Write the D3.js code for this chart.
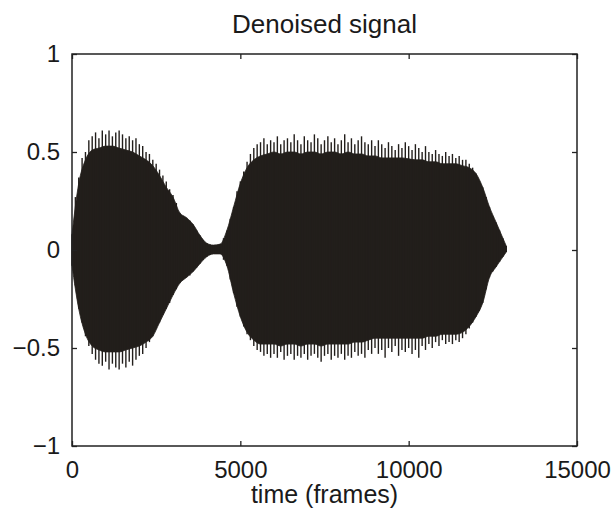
<!DOCTYPE html>
<html>
<head>
<meta charset="utf-8">
<script src="https://cdn.jsdelivr.net/npm/d3@7"></script>
<style>
  body { margin: 0; background: #fff; }
  svg text { font-family: "Liberation Sans", Arial, sans-serif; fill: #1a1a1a; }
</style>
</head>
<body>
<svg id="chart" width="616" height="515"></svg>
<script>
// peak values of the signal, one pair every 100 frames
var step = 100;

var upper = [
  0.08, 0.27, 0.37, 0.47, 0.50, 0.56, 0.58, 0.60, 0.57, 0.61,
  0.59, 0.61, 0.58, 0.60, 0.61, 0.59, 0.57, 0.58, 0.56, 0.57,
  0.54, 0.53, 0.50, 0.49, 0.46, 0.44, 0.41, 0.38, 0.35, 0.31,
  0.28, 0.24, 0.19, 0.175, 0.165, 0.15, 0.13, 0.10, 0.075, 0.05,
  0.035, 0.028, 0.025, 0.025, 0.03, 0.06, 0.10, 0.16, 0.22, 0.30,
  0.35, 0.40, 0.45, 0.49, 0.52, 0.54, 0.55, 0.57, 0.54, 0.56,
  0.55, 0.58, 0.54, 0.56, 0.57, 0.55, 0.59, 0.56, 0.54, 0.58,
  0.56, 0.55, 0.59, 0.57, 0.54, 0.56, 0.58, 0.55, 0.57, 0.54,
  0.56, 0.59, 0.55, 0.57, 0.54, 0.56, 0.58, 0.55, 0.54, 0.56,
  0.53, 0.56, 0.54, 0.52, 0.55, 0.53, 0.51, 0.54, 0.52, 0.55,
  0.53, 0.51, 0.54, 0.52, 0.50, 0.53, 0.50, 0.49, 0.51, 0.49,
  0.48, 0.50, 0.48, 0.49, 0.47, 0.48, 0.46, 0.46, 0.44, 0.42,
  0.39, 0.35, 0.32, 0.27, 0.22, 0.17, 0.14, 0.10, 0.06, 0.02
];

var lower = [
  -0.08, -0.18, -0.30, -0.37, -0.44, -0.49, -0.53, -0.56, -0.58, -0.59,
  -0.57, -0.61, -0.58, -0.60, -0.61, -0.58, -0.60, -0.57, -0.59, -0.56,
  -0.54, -0.53, -0.50, -0.47, -0.44, -0.40, -0.37, -0.33, -0.30, -0.27,
  -0.23, -0.20, -0.17, -0.15, -0.14, -0.13, -0.11, -0.09, -0.07, -0.05,
  -0.035, -0.025, -0.02, -0.015, -0.02, -0.05, -0.08, -0.15, -0.22, -0.29,
  -0.34, -0.39, -0.43, -0.46, -0.49, -0.51, -0.52, -0.54, -0.53, -0.55,
  -0.53, -0.55, -0.52, -0.56, -0.54, -0.53, -0.56, -0.54, -0.55, -0.53,
  -0.56, -0.54, -0.53, -0.55, -0.57, -0.54, -0.53, -0.56, -0.54, -0.55,
  -0.53, -0.56, -0.54, -0.55, -0.52, -0.54, -0.53, -0.55, -0.51, -0.53,
  -0.50, -0.53, -0.51, -0.55, -0.50, -0.52, -0.49, -0.54, -0.51, -0.52,
  -0.50, -0.53, -0.51, -0.55, -0.49, -0.51, -0.48, -0.50, -0.47, -0.49,
  -0.46, -0.48, -0.47, -0.48, -0.46, -0.47, -0.45, -0.43, -0.40, -0.37,
  -0.34, -0.31, -0.27, -0.20, -0.14, -0.11, -0.085, -0.06, -0.035, -0.01
];

// solid core of the band (where the oscillation fills in)
var bodyTimes = d3.range(0, 12801, 200).concat([12900]);

var bodyUpper = [
  0.08, 0.34, 0.46, 0.51, 0.52, 0.53, 0.53, 0.52, 0.51, 0.50,
  0.48, 0.46, 0.43, 0.38, 0.32, 0.27, 0.19, 0.165, 0.13, 0.075,
  0.035, 0.025, 0.03, 0.10, 0.22, 0.34, 0.42, 0.46, 0.48, 0.49,
  0.50, 0.49, 0.50, 0.50, 0.49, 0.50, 0.50, 0.49, 0.50, 0.50,
  0.49, 0.50, 0.49, 0.49, 0.48, 0.48, 0.47, 0.47, 0.47, 0.47,
  0.465, 0.46, 0.46, 0.45, 0.45, 0.44, 0.44, 0.44, 0.43, 0.42,
  0.39, 0.32, 0.22, 0.14, 0.06, 0.02
];

var bodyLower = [
  -0.08, -0.30, -0.43, -0.49, -0.51, -0.52, -0.52, -0.52, -0.51, -0.50,
  -0.49, -0.47, -0.44, -0.37, -0.30, -0.23, -0.17, -0.14, -0.11, -0.07,
  -0.035, -0.02, -0.02, -0.08, -0.22, -0.34, -0.42, -0.46, -0.48, -0.48,
  -0.48, -0.49, -0.48, -0.48, -0.49, -0.48, -0.48, -0.49, -0.48, -0.48,
  -0.48, -0.48, -0.47, -0.47, -0.46, -0.45, -0.45, -0.45, -0.45, -0.45,
  -0.45, -0.45, -0.45, -0.44, -0.44, -0.43, -0.43, -0.43, -0.42, -0.39,
  -0.34, -0.27, -0.14, -0.085, -0.035, -0.01
];

var xTicks = [0, 5000, 10000, 15000];
var yTicks = [-1, -0.5, 0, 0.5, 1];
var yTickLabels = ["\u22121", "\u22120.5", "0", "0.5", "1"];

var plotLeft = 72, plotRight = 577, plotTop = 54, plotBottom = 446;
var ink = "#221e1b";

var svg = d3.select("#chart");

var xScale = d3.scaleLinear()
        .domain([0, 15000])
        .range([plotLeft, plotRight]);

var yScale = d3.scaleLinear()
        .domain([-1, 1])
        .range([plotBottom, plotTop]);

var records = upper.map(function(u, i) {
    return {t: i * step, hi: u, lo: lower[i]};
});
var body = bodyTimes.map(function(t, i) {
    return {t: t, hi: bodyUpper[i], lo: bodyLower[i]};
});

// the signal is so dense it reads as a filled band
var area = d3.area()
        .x(function(d) { return xScale(d.t); })
        .y0(function(d) { return yScale(d.lo); })
        .y1(function(d) { return yScale(d.hi); })
        .curve(d3.curveMonotoneX);

svg.append("path")
    .datum(body)
    .attr("d", area)
    .style("fill", ink)
    .style("stroke", ink)
    .style("stroke-width", 0.8);

// individual swings poking out past the core
svg.selectAll("line.swing")
    .data(records)
    .enter()
    .append("line")
    .attr("class", "swing")
    .attr("x1", function(d) { return xScale(d.t); })
    .attr("x2", function(d) { return xScale(d.t); })
    .attr("y1", function(d) { return yScale(d.hi); })
    .attr("y2", function(d) { return yScale(d.lo); })
    .style("stroke", ink)
    .style("stroke-width", 1.4);

// box
svg.append("rect")
    .attr("x", plotLeft)
    .attr("y", plotTop)
    .attr("width", plotRight - plotLeft)
    .attr("height", plotBottom - plotTop)
    .style("fill", "none")
    .style("stroke", "#222")
    .style("stroke-width", 1.5);

// ticks point inward on all four sides
var tickLen = 5;
var xAxisB = d3.axisBottom(xScale).tickValues(xTicks).tickSize(-tickLen).tickPadding(tickLen + 10).tickFormat(d3.format("d"));
var xAxisT = d3.axisTop(xScale).tickValues(xTicks).tickSize(-tickLen).tickFormat("");
var yAxisL = d3.axisLeft(yScale).tickValues(yTicks).tickSize(-tickLen).tickPadding(tickLen + 7)
        .tickFormat(function(d, i) { return yTickLabels[i]; });
var yAxisR = d3.axisRight(yScale).tickValues(yTicks).tickSize(-tickLen).tickFormat("");

function styleAxis(g) {
    g.select(".domain").remove();
    g.selectAll(".tick line").style("stroke", "#222").style("stroke-width", 1.3);
    g.selectAll(".tick text").style("font-size", "24px").style("fill", "#1a1a1a")
        .style("font-family", "'Liberation Sans', Arial, sans-serif");
}

svg.append("g").attr("transform", "translate(0," + plotBottom + ")").call(xAxisB).call(styleAxis);
svg.append("g").attr("transform", "translate(0," + plotTop + ")").call(xAxisT).call(styleAxis);
svg.append("g").attr("transform", "translate(" + plotLeft + ",0)").call(yAxisL).call(styleAxis);
svg.append("g").attr("transform", "translate(" + plotRight + ",0)").call(yAxisR).call(styleAxis);

svg.append("text")
    .attr("x", (plotLeft + plotRight) / 2)
    .attr("y", 33)
    .style("text-anchor", "middle")
    .style("font-size", "26px")
    .text("Denoised signal");

svg.append("text")
    .attr("x", (plotLeft + plotRight) / 2)
    .attr("y", 503)
    .style("text-anchor", "middle")
    .style("font-size", "25px")
    .text("time (frames)");
</script>
</body>
</html>
